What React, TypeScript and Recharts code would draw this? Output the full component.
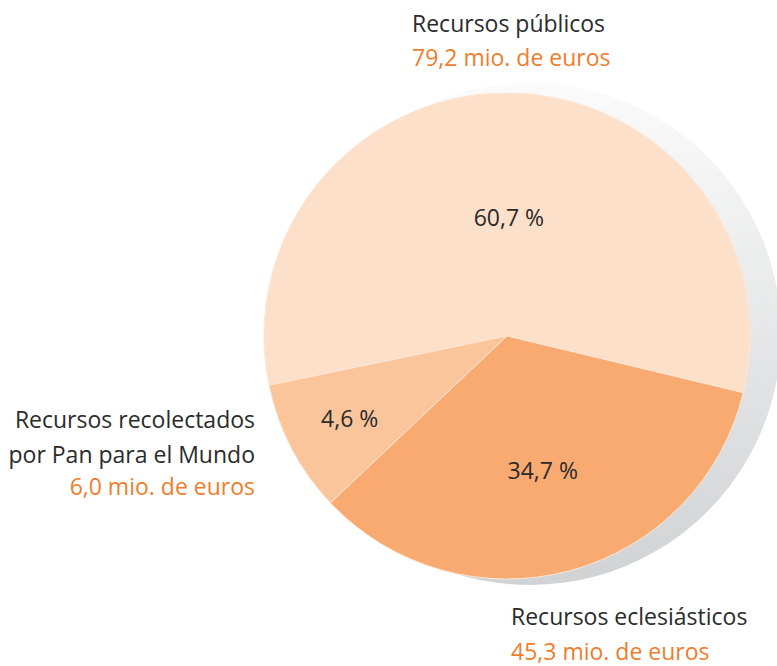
import { PieChart, Pie, Cell } from 'recharts';

// sources of funds
const names = ['Recursos públicos', 'Recursos recolectados por Pan para el Mundo', 'Recursos eclesiásticos'];
const amounts = ['79,2', '6,0', '45,3'];
const percentLabels = ['60,7 %', '4,6 %', '34,7 %'];
// share of the circle as drawn in the figure
const drawnShares = [57.0, 8.8, 34.2];

const colors = ['#fde0c9', '#fbc59b', '#f8aa71'];
const labelRadius = [0.49, 0.73, 0.57];

const data = names.map((n, i) => ({ name: n, value: drawnShares[i] }));
const shadowData = [{ name: 'shadow', value: 1 }];

const FONT = '"Open Sans", "Noto Sans", sans-serif';
const DARK = '#2b2b2b';
const ORANGE = '#ef7d2c';

const RAD = Math.PI / 180;

const renderPercent = (props: any) => {
    const { cx, cy, midAngle, outerRadius, index } = props;
    const r = outerRadius * labelRadius[index];
    const x = cx + r * Math.cos(-midAngle * RAD);
    const y = cy + r * Math.sin(-midAngle * RAD);
    return (
        <text x={x} y={y} textAnchor="middle" dominantBaseline="central" fill={DARK} fontSize={23} fontFamily={FONT}>
            {percentLabels[index]}
        </text>
    );
};

export default function App() {
    return (
        <div style={{ position: 'absolute', left: 0, top: 0, width: 777, height: 666, background: '#fff' }}>
            <PieChart width={777} height={666} margin={{ top: 0, right: 0, bottom: 0, left: 0 }}>
                <defs>
                    <linearGradient id="shadowGrad" x1="0" y1="0" x2="0" y2="1">
                        <stop offset="0%" stopColor="#fbfbfb" />
                        <stop offset="100%" stopColor="#d1d2d4" />
                    </linearGradient>
                </defs>
                <Pie
                    data={shadowData}
                    dataKey="value"
                    cx={530}
                    cy={334}
                    outerRadius={251}
                    stroke="none"
                    fill="url(#shadowGrad)"
                    isAnimationActive={false}
                />
                <Pie
                    data={data}
                    dataKey="value"
                    cx={507}
                    cy={336}
                    outerRadius={243}
                    startAngle={-13.5}
                    endAngle={346.5}
                    stroke="#fde6d4"
                    strokeWidth={1}
                    label={renderPercent}
                    labelLine={false}
                    isAnimationActive={false}
                >
                    {data.map((d, i) => <Cell key={d.name} fill={colors[i]} />)}
                </Pie>
            </PieChart>
            <svg width={777} height={666} style={{ position: 'absolute', left: 0, top: 0, pointerEvents: 'none' }}>
                <g fontFamily={FONT} fontSize={23}>
                    <text x={412} y={32} fill={DARK}>{names[0]}</text>
                    <text x={412} y={66} fill={ORANGE}>{amounts[0]} mio. de euros</text>

                    <text x={255} y={428} fill={DARK} textAnchor="end">Recursos recolectados</text>
                    <text x={255} y={463} fill={DARK} textAnchor="end">por Pan para el Mundo</text>
                    <text x={255} y={495} fill={ORANGE} textAnchor="end">{amounts[1]} mio. de euros</text>

                    <text x={511} y={625} fill={DARK}>{names[2]}</text>
                    <text x={511} y={660} fill={ORANGE}>{amounts[2]} mio. de euros</text>
                </g>
            </svg>
        </div>
    );
}
